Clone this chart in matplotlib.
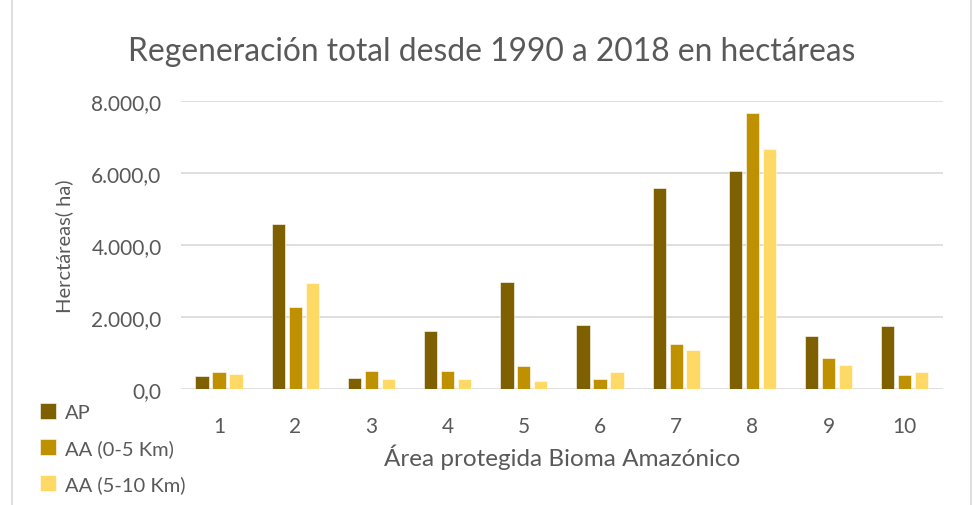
import numpy as np
import matplotlib.pyplot as plt
from matplotlib.patches import Rectangle

plt.rcParams['font.family'] = ['Lato', 'DejaVu Sans']

areas = ["1", "2", "3", "4", "5", "6", "7", "8", "9", "10"]
ap = [353, 4588, 315, 1613, 2966, 1789, 5580, 6072, 1474, 1752]
aa_0_5 = [473, 2280, 491, 500, 630, 269, 1251, 7685, 853, 389]
aa_5_10 = [426, 2947, 287, 278, 213, 463, 1094, 6674, 667, 463]
y_ticks = [0, 2000, 4000, 6000, 8000]
y_tick_labels = ["0,0", "2.000,0", "4.000,0", "6.000,0", "8.000,0"]

series = [("AP", ap, "#7F6000"),
          ("AA (0-5 Km)", aa_0_5, "#BF9000"),
          ("AA (5-10 Km)", aa_5_10, "#FFD966")]

txt = "#595959"
fig = plt.figure(figsize=(9.73, 5.06), dpi=100)
ax = fig.add_axes([0.186, 0.229, 0.783, 0.569])

x = np.arange(len(areas))
w = 0.175
step = 0.222
for i, (name, vals, col) in enumerate(series):
    ax.bar(x + (i - 1) * step, vals, width=w, color=col, label=name,
           edgecolor="white", linewidth=0.4, zorder=3)

ax.set_xlim(-0.5, len(areas) - 0.5)
ax.set_ylim(0, 8000)
ax.set_yticks(y_ticks)
ax.set_yticklabels(y_tick_labels)
ax.set_xticks(x)
ax.set_xticklabels(areas)
ax.tick_params(axis="both", length=0, labelsize=15, colors=txt)
ax.tick_params(axis="x", pad=19)
ax.tick_params(axis="y", pad=14)
ax.grid(axis="y", color="#D9D9D9", linewidth=1.2, zorder=0)
for s in ax.spines.values():
    s.set_visible(False)

ax.set_xlabel("Área protegida Bioma Amazónico", fontsize=17.5, color=txt, labelpad=6)
ax.set_ylabel("Herctáreas( ha)", fontsize=14.5, color=txt, labelpad=13)
fig.text(0.505, 0.897, "Regeneración total desde 1990 a 2018 en hectáreas",
         ha="center", va="center", fontsize=22.9, color=txt)

leg = fig.legend(loc="lower left", bbox_to_anchor=(0.022, -0.012), frameon=False,
                 fontsize=14.5, labelspacing=0.9, handlelength=0.8,
                 handleheight=0.8, handletextpad=0.45)
for t in leg.get_texts():
    t.set_color(txt)

fig.patches.append(Rectangle((0.0125, -0.01), 0.985, 1.02, transform=fig.transFigure,
                             fill=False, edgecolor="#D9D9D9", linewidth=1.2))

fig.savefig("out.png", dpi=100)
